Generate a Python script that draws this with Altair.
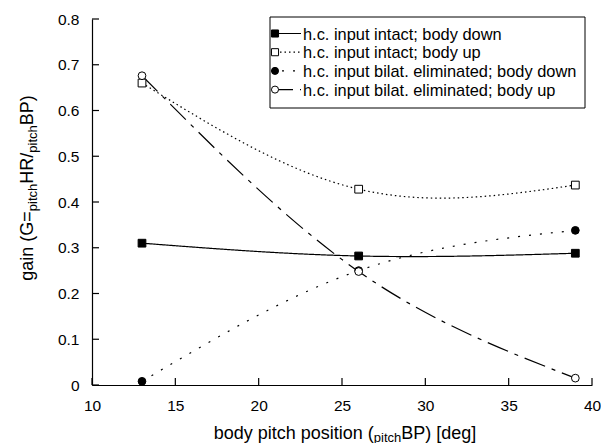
import altair as alt
import pandas as pd

# ---- data -------------------------------------------------------------
body_pitch = [13, 26, 39]
intact_down = [0.310, 0.282, 0.288]
intact_up = [0.660, 0.428, 0.437]
bilat_down = [0.008, 0.250, 0.338]
bilat_up = [0.676, 0.248, 0.015]

series_names = [
    "h.c. input intact; body down",
    "h.c. input intact; body up",
    "h.c. input bilat. eliminated; body down",
    "h.c. input bilat. eliminated; body up",
]
series_values = [intact_down, intact_up, bilat_down, bilat_up]

x_ticks = [10, 15, 20, 25, 30, 35, 40]
y_ticks = [0, 0.1, 0.2, 0.3, 0.4, 0.5, 0.6, 0.7, 0.8]

# ---- styles -----------------------------------------------------------
dashes = [[1, 0], [1.5, 3], [2, 9], [22, 7, 4, 7]]
shapes = ["square", "square", "circle", "circle"]
fills = ["black", "white", "black", "white"]

FONT = "Liberation Sans"
W, H = 500, 366
TICK = 7

rows = []
for name, vals in zip(series_names, series_values):
    for xv, yv in zip(body_pitch, vals):
        rows.append({"series": name, "pitch": xv, "gain": yv})
df = pd.DataFrame(rows)

x_scale = alt.Scale(domain=[10, 40], nice=False, zero=False)
y_scale = alt.Scale(domain=[0, 0.8], nice=False)

x_axis = alt.Axis(values=x_ticks, ticks=False, grid=False, title=None,
                  domainColor="black", domainWidth=1.2, labelFont=FONT,
                  labelFontSize=15.5, labelColor="black", labelPadding=13,
                  labelFlush=False)
y_axis = alt.Axis(values=y_ticks, ticks=False, grid=False, title=None,
                  format="~g", domainColor="black", domainWidth=1.2,
                  labelFont=FONT, labelFontSize=15.5, labelColor="black",
                  labelPadding=13, labelFlush=False)

X = alt.X("pitch:Q", scale=x_scale, axis=x_axis)
Y = alt.Y("gain:Q", scale=y_scale, axis=y_axis)

dash_enc = alt.StrokeDash("series:N", scale=alt.Scale(domain=series_names, range=dashes), legend=None)
shape_enc = alt.Shape("series:N", scale=alt.Scale(domain=series_names, range=shapes), legend=None)
fill_enc = alt.Fill("series:N", scale=alt.Scale(domain=series_names, range=fills), legend=None)

lines = alt.Chart(df).mark_line(interpolate="natural", color="black", strokeWidth=1.2).encode(
    x=X, y=Y, strokeDash=dash_enc, detail="series:N",
)

points = alt.Chart(df).mark_point(filled=True, stroke="black", strokeWidth=1, size=60, opacity=1).encode(
    x=X, y=Y, shape=shape_enc, fill=fill_enc,
)

# inward-pointing tick marks
x_tick_marks = alt.Chart(pd.DataFrame({"pitch": x_ticks})).mark_rule(color="black", strokeWidth=1.2).encode(
    x=X, y=alt.value(H), y2=alt.value(H - TICK),
)
y_tick_marks = alt.Chart(pd.DataFrame({"gain": y_ticks})).mark_rule(color="black", strokeWidth=1.2).encode(
    y=Y, x=alt.value(0), x2=alt.value(TICK),
)

# ---- titles with subscripts ------------------------------------------
# Arial/Helvetica advance widths (1/1000 em) for laying out the title pieces
ADV = {" ": 278, "(": 333, ")": 333, "/": 278, "=": 584, "B": 667, "G": 778,
       "H": 722, "P": 667, "R": 722, "[": 278, "]": 278, "a": 556, "b": 556,
       "c": 500, "d": 556, "e": 556, "g": 556, "h": 556, "i": 222, "n": 556,
       "o": 556, "p": 556, "s": 500, "t": 278, "y": 500}


def text_width(s, size):
    return sum(ADV[c] for c in s) * size / 1000.0


MAIN, SUB, SUB_SHIFT = 18, 13, 4
one = alt.Data(values=[{}])


def piece(text, size, x, y, angle=0):
    return alt.Chart(one).mark_text(
        text=text, font=FONT, fontSize=size, align="left", baseline="alphabetic",
        angle=angle, color="black",
    ).encode(x=alt.value(x), y=alt.value(y))


x_title_parts = [("body pitch position (", MAIN, 0), ("pitch", SUB, 3), ("BP) [deg]", MAIN, 0)]
total = sum(text_width(t, s) for t, s, _ in x_title_parts)
cur = W / 2 + 3 - total / 2
x_title = []
for t, s, sh in x_title_parts:
    x_title.append(piece(t, s, cur, 420 + sh))
    cur += text_width(t, s)

y_title_parts = [("gain (G=", MAIN, 0), ("pitch", SUB, SUB_SHIFT), ("HR/", MAIN, 0),
                 ("pitch", SUB, SUB_SHIFT), ("BP)", MAIN, 0)]
total = sum(text_width(t, s) for t, s, _ in y_title_parts)
cur = 169 + total / 2
y_title = []
for t, s, sh in y_title_parts:
    y_title.append(piece(t, s, -59 + sh, cur, angle=270))
    cur -= text_width(t, s)

# ---- legend box -------------------------------------------------------
LX0, LX1, LY0, LY1 = 178, 493, -2, 89
legend_box = alt.Chart(one).mark_rect(fill="white", stroke="black", strokeWidth=1).encode(
    x=alt.value(LX0), x2=alt.value(LX1), y=alt.value(LY0), y2=alt.value(LY1)
)
legend_layers = [legend_box]
for i, name in enumerate(series_names):
    ry = 14.5 + i * 18.7
    legend_layers.append(
        alt.Chart(one).mark_rule(color="black", strokeWidth=1.2, strokeDash=dashes[i]).encode(
            x=alt.value(LX0 + 1), x2=alt.value(LX0 + 31), y=alt.value(ry)
        )
    )
    legend_layers.append(
        alt.Chart(one).mark_point(shape=shapes[i], filled=True, fill=fills[i], stroke="black",
                                  strokeWidth=1, size=50, opacity=1).encode(
            x=alt.value(LX0 + 5), y=alt.value(ry)
        )
    )
    legend_layers.append(
        alt.Chart(one).mark_text(text=name, font=FONT, fontSize=16.4, align="left",
                                 baseline="middle", color="black").encode(
            x=alt.value(LX0 + 33), y=alt.value(ry + 1)
        )
    )

chart = alt.layer(
    lines, points, x_tick_marks, y_tick_marks, *x_title, *y_title, *legend_layers
).properties(
    width=W, height=H,
    padding={"left": 92, "top": 19, "right": 9, "bottom": 58},
    autosize=alt.AutoSizeParams(type="none"),
    background="white",
).configure_view(stroke=None)

chart.save("out.html", embed_options={"renderer": "svg", "actions": False})
